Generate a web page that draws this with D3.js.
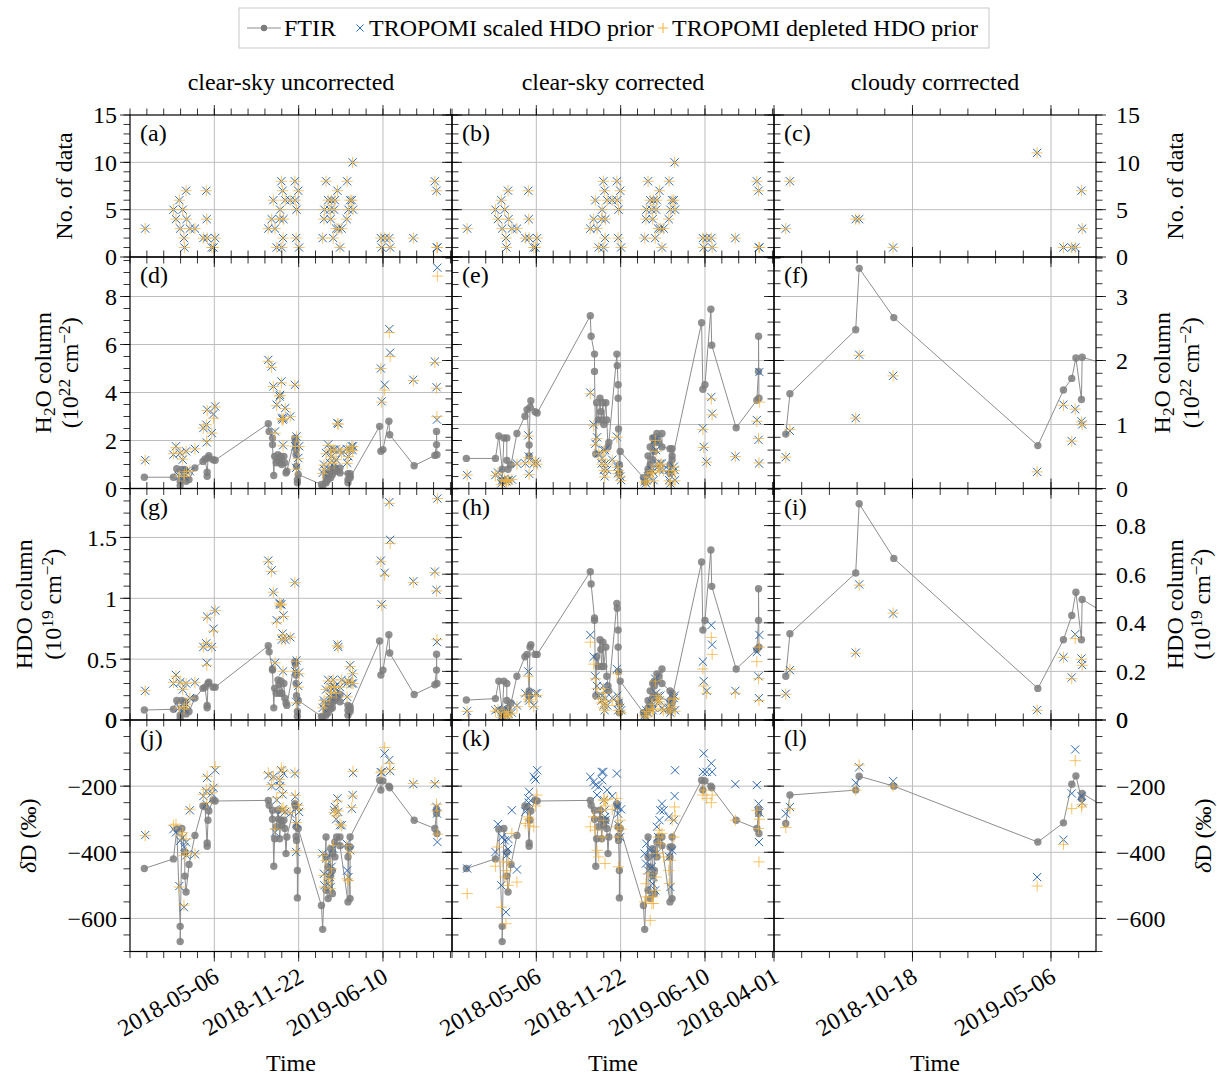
<!DOCTYPE html>
<html><head><meta charset="utf-8">
<script src="https://cdn.jsdelivr.net/npm/d3@7"></script>
<style>
body{margin:0;background:#fff}
text{font-family:"Liberation Serif","Times New Roman",serif;fill:#000}
</style>
</head><body>
<svg id="chart" width="1217" height="1076"></svg>
<script>
// ---------------- DATA ----------------
// TROPOMI daily means, columns 1 & 2 (clear-sky)
const tropDates12 = ["2017-11-23","2018-01-29","2018-02-04","2018-02-12","2018-02-14","2018-02-20","2018-02-23","2018-02-24","2018-02-28","2018-03-01","2018-03-09","2018-03-21",
"2018-04-10","2018-04-17","2018-04-18","2018-04-19","2018-04-30","2018-05-04","2018-05-08",
"2018-09-11","2018-09-19","2018-09-23","2018-09-27","2018-10-01","2018-10-08","2018-10-09","2018-10-12","2018-10-13","2018-10-15","2018-10-16","2018-10-17","2018-10-21","2018-11-02","2018-11-13","2018-11-14","2018-11-16","2018-11-17","2018-11-21","2018-11-23",
"2019-01-18","2019-01-21","2019-01-22","2019-01-26","2019-01-31","2019-02-04","2019-02-06","2019-02-08","2019-02-12","2019-02-14","2019-02-16","2019-02-19","2019-02-22","2019-02-24","2019-02-28","2019-03-04","2019-03-16","2019-03-17","2019-03-20","2019-03-24","2019-03-28","2019-03-30","2019-03-31",
"2019-06-05","2019-06-07","2019-06-14","2019-06-25","2019-06-27","2019-08-21","2019-10-11","2019-10-15","2019-10-16","2019-10-17"];
const tropCounts12 = [3,5,4,6,3,5,2,1,7,4,3,3, 2,7,4,2,1,1,2, 3,4,6,3,1,4,5,8,1,7,2,4,6,6,8,6,2,5,7,1, 2,4,5,8,6,5,4,6,2,5,6,3,7,3,1,3,4,8,5,6,6,10,5, 2,1,2,2,1,2,8,7,1,1];

// clear-sky uncorrected
const h2oScaledUncorr = [1.18,1.41,1.76,0.51,1.48,1.20,0.51,0.62,1.55,0.72,0.72,1.65, 2.52,2.66,1.92,3.28,2.31,3.10,3.42, 5.36,5.08,4.25,2.38,3.49,3.83,3.90,4.46,2.93,2.87,1.80,2.93,3.35,3.00,4.32,1.76,0.86,2.17,1.27,1.76, 0.65,1.00,0.80,1.48,1.83,1.07,1.62,1.34,1.62,1.07,1.62,1.20,2.73,2.70,1.62,1.48,1.65,1.07,1.34,1.62,1.76,1.60,1.76, 5.00,3.63,4.32,6.64,5.66,4.53,5.29,4.22,2.87,9.20];
const h2oDepletedUncorr = [1.18,1.45,1.70,0.52,1.48,1.22,0.50,0.60,1.55,0.70,0.72,1.65, 2.52,2.66,1.98,3.25,2.31,2.93,3.40, 5.30,5.05,4.25,2.30,3.45,3.85,3.88,4.40,2.90,2.85,1.78,2.90,3.33,3.00,4.30,1.76,0.80,2.15,1.25,1.75, 0.62,0.98,0.78,1.45,1.80,1.05,1.60,1.32,1.60,1.05,1.60,1.20,2.70,2.68,1.60,1.48,1.65,1.05,1.33,1.60,1.75,1.58,1.74, 5.00,3.60,4.10,6.50,5.50,4.50,5.25,4.18,3.00,8.85];
const hdoScaledUncorr = [0.24,0.30,0.37,0.10,0.31,0.25,0.09,0.11,0.30,0.13,0.18,0.31, 0.60,0.63,0.47,0.85,0.60,0.75,0.90, 1.31,1.23,1.05,0.47,0.82,0.96,0.95,0.95,0.66,0.71,0.40,0.86,0.66,0.68,1.13,0.40,0.15,0.49,0.28,0.39, 0.10,0.16,0.14,0.25,0.33,0.19,0.27,0.22,0.33,0.27,0.27,0.22,0.62,0.60,0.27,0.33,0.30,0.19,0.32,0.45,0.30,0.38,0.30, 1.31,0.95,1.21,1.79,1.48,1.14,1.22,1.07,0.64,1.82];
const hdoDepletedUncorr = [0.24,0.31,0.36,0.10,0.31,0.25,0.09,0.11,0.30,0.13,0.18,0.31, 0.60,0.63,0.45,0.84,0.60,0.73,0.90, 1.30,1.22,1.05,0.47,0.80,0.96,0.94,0.95,0.66,0.70,0.40,0.85,0.66,0.68,1.13,0.40,0.14,0.48,0.27,0.38, 0.10,0.16,0.13,0.25,0.32,0.19,0.27,0.22,0.33,0.27,0.27,0.22,0.61,0.60,0.27,0.33,0.30,0.19,0.32,0.44,0.30,0.38,0.30, 1.30,0.94,1.19,1.78,1.45,1.13,1.21,1.06,0.66,1.82];
const dDScaledUncorr = [-348,-330,-340,-502,-365,-355,-566,-384,-370,-409,-273,-406, -230,-215,-255,-175,-222,-205,-152, -167,-200,-172,-340,-242,-182,-200,-152,-273,-225,-270,-162,-278,-283,-162,-232,-399,-313,-263,-278, -404,-465,-500,-419,-495,-475,-505,-444,-389,-273,-263,-300,-237,-278,-318,-318,-374,-455,-475,-394,-268,-227,-160, -158,-158,-101,-121,-154,-194,-194,-263,-283,-369];
const dDDepletedUncorr = [-350,-318,-315,-505,-350,-340,-560,-410,-360,-400,-270,-405, -225,-210,-250,-170,-220,-200,-141, -160,-195,-170,-330,-235,-180,-195,-145,-270,-220,-265,-155,-275,-280,-160,-228,-395,-310,-258,-270, -410,-470,-505,-425,-490,-480,-510,-450,-380,-280,-270,-290,-245,-275,-315,-320,-380,-480,-485,-400,-265,-230,-155, -160,-155,-83,-131,-150,-192,-190,-255,-275,-345];

// clear-sky corrected
const h2oScaledCorr = [0.21,0.21,0.25,0.08,0.13,0.15,0.12,0.11,0.13,0.13,0.14,0.39, 0.39,0.83,0.50,0.23,0.39,0.42,0.39, 1.50,1.00,0.70,0.80,0.55,0.39,0.47,0.60,0.29,0.19,0.60,0.39,0.29,0.45,0.81,0.34,0.24,0.29,0.19,0.13, 0.11,0.08,0.13,0.19,0.24,0.29,0.26,0.13,0.76,0.60,0.39,0.34,0.29,0.39,0.39,0.29,0.29,0.13,0.08,0.24,0.34,0.29,0.13, 0.94,0.65,0.42,1.43,1.17,0.50,1.07,0.76,0.39,1.82];
const h2oDepletedCorr = [0.21,0.20,0.24,0.06,0.12,0.14,0.11,0.10,0.13,0.12,0.14,0.38, 0.40,0.82,0.48,0.22,0.38,0.42,0.38, 1.48,0.98,0.68,0.78,0.54,0.38,0.46,0.58,0.28,0.18,0.58,0.38,0.28,0.44,0.80,0.33,0.23,0.28,0.18,0.12, 0.10,0.07,0.12,0.18,0.23,0.28,0.25,0.12,0.75,0.58,0.38,0.33,0.28,0.38,0.38,0.28,0.28,0.12,0.07,0.23,0.33,0.28,0.12, 0.92,0.64,0.41,1.40,1.15,0.50,1.05,0.78,0.40,1.35];
const hdoScaledCorr = [0.037,0.040,0.045,0.014,0.035,0.027,0.014,0.020,0.040,0.025,0.030,0.060, 0.110,0.200,0.090,0.080,0.060,0.110,0.110, 0.35,0.26,0.18,0.14,0.10,0.08,0.10,0.14,0.06,0.04,0.12,0.09,0.06,0.09,0.21,0.10,0.04,0.07,0.05,0.04, 0.020,0.014,0.040,0.030,0.050,0.070,0.040,0.050,0.170,0.110,0.080,0.100,0.080,0.100,0.050,0.040,0.070,0.050,0.030,0.060,0.090,0.100,0.040, 0.24,0.16,0.12,0.39,0.31,0.12,0.28,0.18,0.09,0.35];
const hdoDepletedCorr = [0.035,0.036,0.042,0.010,0.030,0.024,0.012,0.018,0.035,0.022,0.028,0.055, 0.100,0.180,0.085,0.075,0.055,0.100,0.100, 0.32,0.23,0.17,0.13,0.09,0.07,0.09,0.13,0.05,0.04,0.11,0.08,0.06,0.08,0.19,0.09,0.04,0.06,0.04,0.03, 0.018,0.012,0.035,0.028,0.045,0.065,0.036,0.045,0.160,0.100,0.075,0.090,0.075,0.090,0.045,0.038,0.065,0.045,0.028,0.055,0.085,0.090,0.036, 0.21,0.14,0.11,0.34,0.27,0.11,0.24,0.17,0.08,0.30];
const dDScaledCorr = [-449,-399,-315,-500,-354,-364,-581,-410,-390,-360,-273,-452, -277,-237,-250,-217,-172,-180,-152, -172,-187,-197,-227,-202,-157,-182,-157,-242,-273,-293,-303,-212,-230,-162,-263,-283,-318,-354,-270, -404,-434,-374,-455,-394,-444,-495,-475,-515,-404,-323,-354,-303,-273,-253,-273,-293,-414,-505,-394,-303,-230,-152, -157,-101,-157,-131,-157,-194,-197,-253,-369,-280];
const dDDepletedCorr = [-525,-442,-384,-566,-429,-475,-616,-455,-500,-430,-343,-490, -313,-293,-320,-300,-323,-260,-227, -323,-293,-333,-394,-414,-273,-354,-242,-303,-242,-434,-260,-240,-270,-237,-323,-354,-444,-303,-330, -550,-495,-535,-465,-606,-555,-535,-555,-515,-475,-404,-354,-333,-374,-343,-414,-455,-495,-424,-303,-354,-263,-290, -227,-212,-237,-250,-227,-303,-273,-328,-429,-300];

// FTIR observations (same in columns 1 & 2)
const ftirDates12 = ["2017-11-21","2018-01-29","2018-02-06","2018-02-14","2018-02-14","2018-02-18","2018-02-25","2018-02-25","2018-02-28","2018-03-07","2018-03-21",
"2018-04-09","2018-04-14","2018-04-19","2018-04-19","2018-04-21","2018-04-23","2018-05-03","2018-05-08",
"2018-09-11","2018-09-13","2018-09-21","2018-09-21","2018-09-24","2018-09-26","2018-09-30","2018-10-04","2018-10-06","2018-10-08","2018-10-11","2018-10-13","2018-10-18","2018-10-20","2018-10-23","2018-10-25",
"2018-11-13","2018-11-14","2018-11-16","2018-11-16","2018-11-17","2018-11-19","2018-11-19","2018-11-21",
"2019-01-15","2019-01-18","2019-01-26","2019-01-26","2019-01-26","2019-01-31","2019-01-31","2019-02-06","2019-02-06","2019-02-10","2019-02-10","2019-02-10","2019-02-16","2019-02-16","2019-02-20","2019-02-28","2019-02-28","2019-03-19","2019-03-19","2019-03-19","2019-03-24","2019-03-24","2019-03-24",
"2019-06-02","2019-06-05","2019-06-10","2019-06-24","2019-06-26","2019-08-23","2019-10-11","2019-10-15","2019-10-15","2019-10-16"];
const ftirH2O12 = [0.47,0.47,0.82,0.30,0.12,0.79,0.79,0.44,0.30,0.37,0.86, 1.13,1.23,0.68,0.51,1.27,1.37,1.20,1.18, 2.70,2.38,2.10,1.83,0.54,1.34,1.07,1.41,1.20,1.07,1.34,1.00,1.34,1.07,0.65,0.72, 2.10,1.92,1.62,1.41,0.93,0.37,0.24,0.58, 0.17,0.10,0.30,0.51,0.24,0.37,0.65,0.79,0.45,0.58,0.79,0.72,0.86,0.79,0.72,0.86,0.65,0.62,0.37,0.24,0.51,0.62,0.45, 2.59,1.55,1.62,2.80,2.24,0.95,1.38,1.83,2.38,1.41];
const ftirHDO12 = [0.082,0.088,0.16,0.04,0.01,0.16,0.15,0.08,0.05,0.07,0.18, 0.26,0.27,0.12,0.10,0.30,0.31,0.27,0.27, 0.61,0.56,0.42,0.41,0.10,0.26,0.22,0.33,0.29,0.22,0.32,0.22,0.30,0.18,0.14,0.12, 0.48,0.46,0.37,0.30,0.20,0.07,0.03,0.16, 0.03,0.02,0.05,0.08,0.04,0.06,0.12,0.15,0.09,0.10,0.16,0.14,0.19,0.16,0.18,0.21,0.15,0.12,0.08,0.04,0.07,0.11,0.09, 0.65,0.37,0.41,0.70,0.55,0.21,0.29,0.41,0.54,0.30];
const ftirDD12 = [-449,-420,-330,-624,-670,-328,-400,-472,-520,-437,-349, -260,-262,-382,-372,-303,-275,-242,-245, -243,-258,-300,-273,-442,-359,-323,-273,-300,-359,-303,-318,-303,-328,-404,-354, -253,-260,-323,-352,-364,-455,-538,-328, -561,-633,-354,-414,-515,-540,-444,-389,-470,-525,-455,-404,-369,-414,-354,-354,-380,-550,-414,-384,-540,-384,-354, -182,-212,-184,-200,-205,-303,-328,-283,-270,-343];

// Column 3 (cloudy corrected)
const tropDates3 = ["2018-04-18","2018-04-24","2018-07-28","2018-08-02","2018-09-20","2019-04-16","2019-05-24","2019-06-05","2019-06-10","2019-06-19","2019-06-20"];
const tropCounts3 = [3,8,4,4,1,11,1,1,1,7,3];
const h2oScaledCloudy = [0.49,0.90,1.10,2.09,1.76,0.26,1.31,0.74,1.24,1.05,1.00];
const h2oDepletedCloudy = [0.49,0.92,1.10,2.08,1.76,0.26,1.30,0.74,1.24,1.04,1.00];
const hdoScaledCloudy = [0.108,0.205,0.277,0.558,0.438,0.041,0.258,0.175,0.353,0.253,0.226];
const hdoDepletedCloudy = [0.106,0.208,0.275,0.555,0.440,0.040,0.258,0.170,0.335,0.250,0.225];
const dDScaledCloudy = [-283,-263,-190,-143,-185,-475,-362,-222,-89,-230,-250];
const dDDepletedCloudy = [-325,-268,-212,-136,-200,-502,-376,-268,-123,-263,-255];
const ftirDates3 = ["2018-04-18","2018-04-24","2018-07-28","2018-08-02","2018-09-21","2019-04-17","2019-05-24","2019-06-05","2019-06-11","2019-06-19","2019-06-20","2019-08-01"];
const ftirH2O3 = [0.85,1.48,2.48,3.44,2.67,0.67,1.54,1.72,2.04,1.39,2.05,1.92];
const ftirHDO3 = [0.18,0.355,0.605,0.89,0.665,0.13,0.33,0.43,0.526,0.33,0.496,0.424];
const ftirDD3 = [-313,-227,-212,-170,-200,-369,-311,-194,-169,-238,-222,-275];

// Axis ticks / labels
const colTitles = ["clear-sky uncorrected","clear-sky corrected","cloudy corrrected"];
const xTickLabels12 = ["2018-05-06","2018-11-22","2019-06-10"];
const xTickLabels3 = ["2018-04-01","2018-10-18","2019-05-06"];
const countTicks = [0,5,10,15];
const h2oTicksUncorr = [0,2,4,6,8];
const h2oTicksCorr = [0,1,2,3];
const hdoTicksUncorr = [0,0.5,1,1.5];
const hdoTicksCorr = [0,0.2,0.4,0.6,0.8];
const dDTicks = [-600,-400,-200,0];
const panelLetters = ["a","b","c","d","e","f","g","h","i","j","k","l"];
const legendLabels = ["FTIR","TROPOMI scaled HDO prior","TROPOMI depleted HDO prior"];

// ---------------- DRAWING ----------------
const parse = d3.utcParse("%Y-%m-%d");
const DAY = 864e5;
const svg = d3.select("#chart");
const FONT = 24;
const colLeft = [130, 452, 774], colW = 322;
const rowTop = [115, 257, 488.5, 720], rowH = [142, 231.5, 231.5, 231.5];
const C_FTIR = "#7c7c7c", C_LINE = "#8d8d8d", C_BLUE = "#2f68ae", C_ORANGE = "#f2b13a", C_GRID = "#bdbdbd";

const start12 = parse("2017-10-18"), start3 = parse("2018-04-01");
const xs = [
  d3.scaleUtc().domain([start12, new Date(+start12 + 763.7*DAY)]).range([colLeft[0], colLeft[0]+colW]),
  d3.scaleUtc().domain([start12, new Date(+start12 + 763.7*DAY)]).range([colLeft[1], colLeft[1]+colW]),
  d3.scaleUtc().domain([start3, new Date(+start3 + 465*DAY)]).range([colLeft[2], colLeft[2]+colW])
];
const xMajor = [xTickLabels12, xTickLabels12, xTickLabels3];
const xStart = [start12, start12, start3];

const yCfg = [
  [ {top:15, major:countTicks, minor:1}, {top:15, major:countTicks, minor:1}, {top:15, major:countTicks, minor:1} ],
  [ {top:231.5/24, major:h2oTicksUncorr, minor:0.5}, {top:231.5/64, major:[1,2], minor:0.2}, {top:231.5/64, major:h2oTicksCorr, minor:0.2} ],
  [ {top:231.5/121.7, major:hdoTicksUncorr, minor:0.1}, {top:231.5/243, major:[0.2,0.4,0.6], minor:0.05}, {top:231.5/243, major:hdoTicksCorr, minor:0.05} ],
  [ {bottom:-700, top:0, major:dDTicks, minor:50}, {bottom:-700, top:0, major:dDTicks, minor:50}, {bottom:-700, top:0, major:dDTicks, minor:50} ]
];

const colData = [
  {dates:tropDates12, counts:tropCounts12, s:[h2oScaledUncorr,hdoScaledUncorr,dDScaledUncorr], d:[h2oDepletedUncorr,hdoDepletedUncorr,dDDepletedUncorr],
   fd:ftirDates12, f:[ftirH2O12,ftirHDO12,ftirDD12]},
  {dates:tropDates12, counts:tropCounts12, s:[h2oScaledCorr,hdoScaledCorr,dDScaledCorr], d:[h2oDepletedCorr,hdoDepletedCorr,dDDepletedCorr],
   fd:ftirDates12, f:[ftirH2O12,ftirHDO12,ftirDD12]},
  {dates:tropDates3, counts:tropCounts3, s:[h2oScaledCloudy,hdoScaledCloudy,dDScaledCloudy], d:[h2oDepletedCloudy,hdoDepletedCloudy,dDDepletedCloudy],
   fd:ftirDates3, f:[ftirH2O3,ftirHDO3,ftirDD3]}
];

function fmt(v){ const s = String(Math.round(Math.abs(v)*100)/100); return (v<0?"\u2212":"")+s; }
function range(a,b,step){ const out=[]; for(let v=a; v<=b+1e-9; v+=step) out.push(Math.round(v/step)*step); return out; }

const defs = svg.append("defs");
const gridLayer = svg.append("g");
const dataLayer = svg.append("g");
const axisLayer = svg.append("g");

function crossPath(s){ return `M${-s},${-s}L${s},${s}M${-s},${s}L${s},${-s}`; }
function plusPath(s){ return `M${-s},0L${s},0M0,${-s}L0,${s}`; }

for (let r=0; r<4; r++){
  for (let c=0; c<3; c++){
    const x = xs[c];
    const L = colLeft[c], R = L+colW, T = rowTop[r], B = T+rowH[r];
    const cfg = yCfg[r][c];
    const y = d3.scaleLinear().domain([cfg.bottom||0, cfg.top]).range([B, T]);
    const id = "clip"+r+"_"+c;
    defs.append("clipPath").attr("id", id).append("rect").attr("x",L).attr("y",T).attr("width",colW).attr("height",rowH[r]);

    const g = gridLayer.append("g");
    xMajor[c].map(parse).forEach(dt=>{
      const px = x(dt);
      if (px>L+0.5 && px<R-0.5) g.append("line").attr("x1",px).attr("x2",px).attr("y1",T).attr("y2",B).attr("stroke",C_GRID).attr("stroke-width",1);
    });
    cfg.major.forEach(v=>{
      const py = y(v);
      if (py>T+0.5 && py<B-0.5) g.append("line").attr("x1",L).attr("x2",R).attr("y1",py).attr("y2",py).attr("stroke",C_GRID).attr("stroke-width",1);
    });

    const a = axisLayer.append("g").attr("stroke","#000").attr("stroke-width",0.8);
    const xEnd = x.domain()[1];
    for (let dt=+xStart[c]; dt<=+xEnd; dt+=40*DAY){
      const px = x(new Date(dt));
      a.append("line").attr("x1",px).attr("x2",px).attr("y1",T).attr("y2",T-6.5);
      a.append("line").attr("x1",px).attr("x2",px).attr("y1",B).attr("y2",B+6.5);
    }
    xMajor[c].map(parse).forEach(dt=>{
      const px = x(dt);
      a.append("line").attr("x1",px).attr("x2",px).attr("y1",T).attr("y2",T-10);
      a.append("line").attr("x1",px).attr("x2",px).attr("y1",B).attr("y2",B+10);
    });
    const y0 = cfg.bottom||0;
    range(y0, cfg.top, cfg.minor).forEach(v=>{
      const py = y(v);
      a.append("line").attr("x1",L).attr("x2",L-6.5).attr("y1",py).attr("y2",py);
      a.append("line").attr("x1",R).attr("x2",R+6.5).attr("y1",py).attr("y2",py);
    });
    cfg.major.forEach(v=>{
      const py = y(v);
      a.append("line").attr("x1",L).attr("x2",L-10).attr("y1",py).attr("y2",py);
      a.append("line").attr("x1",R).attr("x2",R+10).attr("y1",py).attr("y2",py);
    });

    const dl = dataLayer.append("g").attr("clip-path",`url(#${id})`);
    const cd = colData[c];
    if (r>0){
      const fv = cd.f[r-1];
      const pts = cd.fd.map((d,i)=>[x(parse(d)), y(fv[i])]);
      dl.append("path").attr("d", d3.line()(pts)).attr("fill","none").attr("stroke",C_LINE).attr("stroke-width",1);
      dl.selectAll(null).data(pts).enter().append("circle").attr("cx",p=>p[0]).attr("cy",p=>p[1]).attr("r",3.7)
        .attr("fill",C_FTIR).attr("fill-opacity",0.85);
    }
    const sv = r===0 ? cd.counts : cd.s[r-1];
    const dv = r===0 ? cd.counts : cd.d[r-1];
    dl.selectAll(null).data(cd.dates).enter().append("path")
      .attr("transform",(d,i)=>`translate(${x(parse(d))},${y(sv[i])})`)
      .attr("d", crossPath(4.1)).attr("stroke",C_BLUE).attr("stroke-width",1).attr("fill","none");
    dl.selectAll(null).data(cd.dates).enter().append("path")
      .attr("transform",(d,i)=>`translate(${x(parse(d))},${y(dv[i])})`)
      .attr("d", plusPath(5.6)).attr("stroke",C_ORANGE).attr("stroke-opacity",0.75).attr("stroke-width",1).attr("fill","none");

    axisLayer.append("rect").attr("x",L).attr("y",T).attr("width",colW).attr("height",rowH[r])
      .attr("fill","none").attr("stroke","#000").attr("stroke-width",1.2);

    axisLayer.append("text").attr("x",L+10).attr("y",T+26).attr("font-size",FONT).text("("+panelLetters[r*3+c]+")");

    if (c===0){
      cfg.major.forEach(v=>{
        axisLayer.append("text").attr("x",L-13).attr("y",y(v)).attr("dy","0.35em").attr("text-anchor","end")
          .attr("font-size",FONT).text(fmt(v));
      });
    }
    if (c===2){
      cfg.major.forEach(v=>{
        axisLayer.append("text").attr("x",R+20).attr("y",y(v)).attr("dy","0.35em").attr("text-anchor","start")
          .attr("font-size",FONT).text(fmt(v));
      });
    }
    if (r===3){
      xMajor[c].forEach(lbl=>{
        const px = x(parse(lbl));
        axisLayer.append("text").attr("transform",`translate(${px-2},${B+15}) rotate(-30)`)
          .attr("text-anchor","end").attr("dy","0.7em").attr("font-size",FONT).text(lbl);
      });
    }
  }
}

colTitles.forEach((t,c)=>{
  svg.append("text").attr("x",colLeft[c]+colW/2).attr("y",90).attr("text-anchor","middle").attr("font-size",FONT).text(t);
  svg.append("text").attr("x",colLeft[c]+colW/2).attr("y",1071).attr("text-anchor","middle").attr("font-size",FONT).text("Time");
});

function yTitle(cx, cy, builder){
  const t = svg.append("text").attr("transform",`translate(${cx},${cy}) rotate(-90)`).attr("text-anchor","middle")
    .attr("dy","0.35em").attr("font-size",FONT);
  builder(t);
}
function h2oL1(t){ t.append("tspan").text("H"); t.append("tspan").attr("baseline-shift","-25%").attr("font-size",FONT*0.72).text("2"); t.append("tspan").text("O column"); }
function unitL2(exp){ return t=>{ t.append("tspan").text("(10"); t.append("tspan").attr("baseline-shift","45%").attr("font-size",FONT*0.72).text(exp);
  t.append("tspan").text(" cm"); t.append("tspan").attr("baseline-shift","45%").attr("font-size",FONT*0.72).text("\u22122"); t.append("tspan").text(")"); }; }
function hdoL1(t){ t.text("HDO column"); }
function dDL(t){ t.append("tspan").attr("font-style","italic").text("\u03B4"); t.append("tspan").text("D (\u2030)"); }
const rowMid = r => rowTop[r]+rowH[r]/2;
yTitle(64, rowMid(0), t=>t.text("No. of data"));
yTitle(43, rowMid(1), h2oL1); yTitle(70, rowMid(1), unitL2("22"));
yTitle(24, rowMid(2), hdoL1); yTitle(53, rowMid(2), unitL2("19"));
yTitle(28, rowMid(3), dDL);
yTitle(1175, rowMid(0), t=>t.text("No. of data"));
yTitle(1162, rowMid(1), h2oL1); yTitle(1191, rowMid(1), unitL2("22"));
yTitle(1175, rowMid(2), hdoL1); yTitle(1202, rowMid(2), unitL2("19"));
yTitle(1203, rowMid(3), dDL);

// legend
const lg = svg.append("g");
const ly = 28;
lg.append("rect").attr("x",239).attr("y",8).attr("width",750).attr("height",40)
  .attr("fill","#fff").attr("stroke","#c8c8c8").attr("stroke-width",1);
lg.append("line").attr("x1",247).attr("x2",281).attr("y1",ly).attr("y2",ly).attr("stroke",C_LINE).attr("stroke-width",1);
lg.append("circle").attr("cx",264).attr("cy",ly).attr("r",3.2).attr("fill",C_FTIR);
lg.append("text").attr("x",284).attr("y",ly).attr("dy","0.33em").attr("font-size",FONT).text(legendLabels[0]);
lg.append("path").attr("transform",`translate(360,${ly})`).attr("d",crossPath(3.5)).attr("stroke",C_BLUE).attr("fill","none");
lg.append("text").attr("x",369).attr("y",ly).attr("dy","0.33em").attr("font-size",FONT).text(legendLabels[1]);
lg.append("path").attr("transform",`translate(663,${ly})`).attr("d",plusPath(5)).attr("stroke",C_ORANGE).attr("fill","none");
lg.append("text").attr("x",672).attr("y",ly).attr("dy","0.33em").attr("font-size",FONT).text(legendLabels[2]);
</script>
</body></html>
